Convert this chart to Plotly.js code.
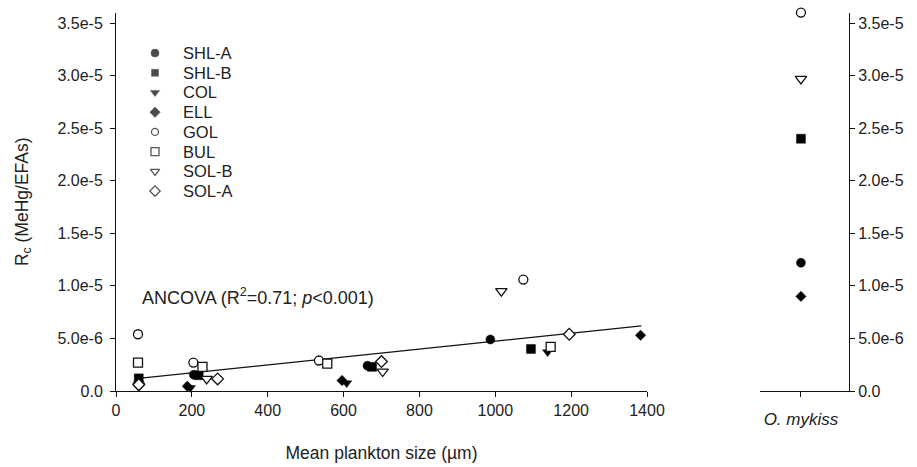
<!DOCTYPE html>
<html>
<head>
<meta charset="utf-8">
<script src="https://cdn.plot.ly/plotly-3.0.1.min.js"></script>
<style>
  html, body { margin: 0; padding: 0; background: #fff; }
  #chart { width: 917px; height: 467px; }
</style>
</head>
<body>
<div id="chart"></div>
<script>
// ---- data ----
const groups = ['SHL-A', 'SHL-B', 'COL', 'ELL', 'GOL', 'BUL', 'SOL-B', 'SOL-A'];

const shlA_x = [205, 663, 987];
const shlA_y = [1.55e-6, 2.4e-6, 4.9e-6];
const shlB_x = [60, 218, 675, 1094];
const shlB_y = [1.2e-6, 1.5e-6, 2.3e-6, 4.0e-6];
const col_x = [60, 196, 608, 1138];
const col_y = [0.7e-6, 0.3e-6, 0.75e-6, 3.7e-6];
const ell_x = [188, 596, 1383];
const ell_y = [0.45e-6, 1.0e-6, 5.3e-6];
const gol_x = [58, 204, 535, 1074];
const gol_y = [5.4e-6, 2.7e-6, 2.9e-6, 1.06e-5];
const bul_x = [58, 228, 557, 1146];
const bul_y = [2.7e-6, 2.3e-6, 2.6e-6, 4.2e-6];
const solB_x = [60, 239, 703, 1016];
const solB_y = [0.5e-6, 1.15e-6, 1.85e-6, 9.5e-6];
const solA_x = [60, 268, 700, 1195];
const solA_y = [0.6e-6, 1.15e-6, 2.8e-6, 5.4e-6];

// regression (ANCOVA) line end points
const fitX = [60, 1385];
const fitY = [1.2e-6, 6.2e-6];

// O. mykiss panel
const mykissCategory = ['O. mykiss'];
const mykissGroups = ['GOL', 'SOL-B', 'SHL-B', 'SHL-A', 'ELL'];
const mykissValues = [3.6e-5, 2.97e-5, 2.4e-5, 1.22e-5, 0.9e-5];

// ticks
const xTickVals = [0, 200, 400, 600, 800, 1000, 1200, 1400];
const yTickVals = [0, 5e-6, 1e-5, 1.5e-5, 2e-5, 2.5e-5, 3e-5, 3.5e-5];
const yTickText = ['0.0', '5.0e-6', '1.0e-5', '1.5e-5', '2.0e-5', '2.5e-5', '3.0e-5', '3.5e-5'];

// ---- styles ----
const FONT = 'Liberation Sans, Arial, sans-serif';
const styles = {
  'SHL-A': {symbol: 'circle', fill: '#000', size: 9, lsize: 8},
  'SHL-B': {symbol: 'square', fill: '#000', size: 9, lsize: 7},
  'COL':   {symbol: 'triangle-down', fill: '#000', size: 9, lsize: 8},
  'ELL':   {symbol: 'diamond', fill: '#000', size: 8, lsize: 8},
  'GOL':   {symbol: 'circle', fill: '#fff', size: 9, lsize: 7},
  'BUL':   {symbol: 'square', fill: '#fff', size: 9, lsize: 8},
  'SOL-B': {symbol: 'triangle-down', fill: '#fff', size: 10, lsize: 8},
  'SOL-A': {symbol: 'diamond', fill: '#fff', size: 9, lsize: 8}
};
const seriesData = {
  'SHL-A': [shlA_x, shlA_y], 'SHL-B': [shlB_x, shlB_y], 'COL': [col_x, col_y],
  'ELL': [ell_x, ell_y], 'GOL': [gol_x, gol_y], 'BUL': [bul_x, bul_y],
  'SOL-B': [solB_x, solB_y], 'SOL-A': [solA_x, solA_y]
};

function mk(g, size) {
  const s = styles[g];
  return {symbol: s.symbol, size: size, color: s.fill,
          line: {color: '#111', width: s.fill === '#fff' ? 1.3 : 0.5}};
}

const traces = [];
traces.push({x: fitX, y: fitY, type: 'scatter', mode: 'lines',
  line: {color: '#111', width: 1.2}, xaxis: 'x', yaxis: 'y', showlegend: false, hoverinfo: 'skip'});

groups.forEach(g => {
  traces.push({x: seriesData[g][0], y: seriesData[g][1], type: 'scatter', mode: 'markers',
    name: g, marker: mk(g, styles[g].size), xaxis: 'x', yaxis: 'y', showlegend: false, cliponaxis: false});
});

mykissGroups.forEach((g, i) => {
  traces.push({x: mykissCategory, y: [mykissValues[i]], type: 'scatter', mode: 'markers',
    name: g, marker: mk(g, styles[g].size), xaxis: 'x2', yaxis: 'y2', showlegend: false, cliponaxis: false});
});

// custom legend drawn on a hidden axis pair: one row per group
const legendIdx = groups.map((g, i) => i);
traces.push({x: groups.map(() => 0), y: legendIdx, type: 'scatter', mode: 'markers',
  marker: {symbol: groups.map(g => styles[g].symbol), size: groups.map(g => styles[g].lsize),
           color: groups.map(g => styles[g].fill),
           line: {color: '#111', width: groups.map(g => styles[g].fill === '#fff' ? 1.3 : 0.5)}},
  xaxis: 'x3', yaxis: 'y3', showlegend: false, cliponaxis: false, hoverinfo: 'skip'});

const annotations = groups.map((g, i) => ({
  xref: 'x3', yref: 'y3', x: 0.18, y: i, text: g, showarrow: false,
  xanchor: 'left', yanchor: 'middle', font: {family: FONT, size: 16.5, color: '#222'}
}));
annotations.push({
  xref: 'x', yref: 'y', x: 62, y: 8.95e-6, xanchor: 'left', yanchor: 'middle', showarrow: false,
  text: 'ANCOVA (R<sup>2</sup>=0.71; <i>p</i><0.001)', font: {family: FONT, size: 18, color: '#222'}
});

const yRange = [0, 3.6e-5];
const yDom = [76 / 467, (467 - 12.6) / 467];
const axisCommon = {showline: true, linecolor: '#111', linewidth: 1, ticks: 'outside', ticklen: 5,
  tickcolor: '#111', tickwidth: 1, showgrid: false, zeroline: false, automargin: false,
  tickfont: {family: FONT, size: 16, color: '#222'}};

const layout = {
  width: 917, height: 467,
  margin: {l: 0, r: 0, t: 0, b: 0},
  paper_bgcolor: '#fff', plot_bgcolor: 'rgba(0,0,0,0)',
  showlegend: false,
  xaxis: Object.assign({}, axisCommon, {domain: [116 / 917, 647 / 917], range: [0, 1400],
    tickvals: xTickVals, anchor: 'y',
    title: {text: 'Mean plankton size (\u00b5m)', font: {family: FONT, size: 17.5, color: '#222'}, standoff: 28}}),
  yaxis: Object.assign({}, axisCommon, {domain: yDom, range: yRange, tickvals: yTickVals, ticktext: yTickText,
    anchor: 'x', ticklabelstandoff: 4,
    title: {text: 'R<sub>c</sub> (MeHg/EFAs)', font: {family: FONT, size: 17.5, color: '#222'}, standoff: 24}}),
  xaxis2: Object.assign({}, axisCommon, {domain: [760 / 917, 849 / 917], type: 'category',
    range: [-0.92, 1.08], anchor: 'y2', tickvals: mykissCategory, ticktext: ['<i>O. mykiss</i>'],
    ticklabelstandoff: 8, tickfont: {family: FONT, size: 17, color: '#222'}}),
  yaxis2: Object.assign({}, axisCommon, {domain: yDom, range: yRange, tickvals: yTickVals, ticktext: yTickText,
    anchor: 'x2', side: 'right'}),
  xaxis3: {domain: [155 / 917, 300 / 917], range: [0, 1], visible: false, fixedrange: true},
  yaxis3: {domain: [(467 - 200.9) / 467, (467 - 43.2) / 467], range: [7.5, -0.5], visible: false,
    fixedrange: true, anchor: 'x3'},
  annotations: annotations
};

Plotly.newPlot('chart', traces, layout, {displayModeBar: false, staticPlot: true});
</script>
</body>
</html>
